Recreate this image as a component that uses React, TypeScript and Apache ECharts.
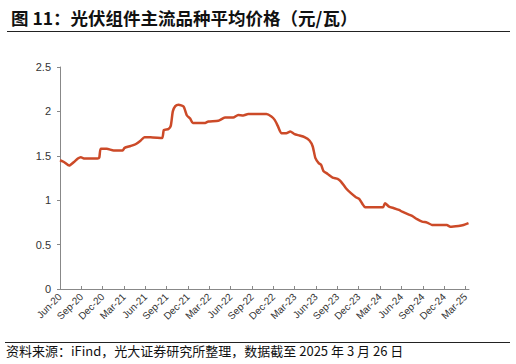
import React, { useEffect, useRef } from "react";
import * as echarts from "echarts";

// Month offset from Jun-2020 and module price (元/瓦)
const monthIdx = [
  0, 0.56, 1.3, 1.96, 2.51, 2.93, 3.35, 5.27, 5.52, 5.73, 6.57, 7.55, 8.8, 9.08, 9.92, 10.62, 11.32, 11.88,
  12.72, 14.35, 14.6, 15.23, 15.58, 15.86, 16.21, 16.67, 17.37, 17.84, 18.3, 18.68, 20.4, 20.86, 22.26,
  23.19, 24.35, 25.05, 25.75, 26.45, 29.02, 29.72, 30.18, 30.6, 31.12, 31.81, 32.37, 32.97, 33.67, 34.37,
  35.07, 35.53, 35.91, 36.37, 36.71, 37.03, 37.63, 38.33, 39.03, 39.5, 40.2, 40.9, 41.6, 42.06, 42.52,
  42.9, 45.41, 45.69, 46.25, 46.95, 47.65, 48.11, 48.81, 49.5, 50.2, 50.9, 51.6, 52.3, 54.39, 54.87,
  56.03, 56.73, 57.43,
];
const prices = [
  1.45, 1.43, 1.39, 1.43, 1.47, 1.485, 1.47, 1.47, 1.48, 1.58, 1.58, 1.56, 1.56, 1.59, 1.61, 1.63, 1.67, 1.71,
  1.71, 1.7, 1.79, 1.8, 1.84, 2.0, 2.06, 2.075, 2.055, 1.954, 1.92, 1.868, 1.87, 1.886, 1.894,
  1.93, 1.93, 1.96, 1.955, 1.97, 1.97, 1.943, 1.905, 1.84, 1.755, 1.755, 1.773, 1.744, 1.728, 1.71,
  1.672, 1.605, 1.473, 1.417, 1.398, 1.33, 1.296, 1.255, 1.24, 1.21, 1.135, 1.079, 1.034, 1.015, 0.958,
  0.92, 0.92, 0.966, 0.928, 0.91, 0.89, 0.87, 0.845, 0.823, 0.786, 0.759, 0.748, 0.722, 0.72, 0.702,
  0.71, 0.72, 0.741,
];
const xTickLabels = [
  "Jun-20", "Sep-20", "Dec-20", "Mar-21", "Jun-21", "Sep-21", "Dec-21", "Mar-22", "Jun-22", "Sep-22",
  "Dec-22", "Mar-23", "Jun-23", "Sep-23", "Dec-23", "Mar-24", "Jun-24", "Sep-24", "Dec-24", "Mar-25",
];
const titleText = "图 11：光伏组件主流品种平均价格（元/瓦）";
const sourceText = "资料来源：iFind，光大证券研究所整理，数据截至 2025 年 3 月 26 日";

export default function App() {
  const ref = useRef<HTMLDivElement>(null);
  useEffect(() => {
    if (!ref.current) return;
    const chart = echarts.init(ref.current, undefined, { renderer: "svg" });
    const tickVals = xTickLabels.map((_, i) => i * 3);
    const font = "'Liberation Sans', Arial, sans-serif";
    chart.setOption({
      animation: false,
      backgroundColor: "#fff",
      title: {
        text: titleText,
        left: 6,
        top: 4,
        textStyle: {
          fontSize: 17.5,
          fontWeight: "bold",
          color: "#111",
          fontFamily: "'Noto Sans CJK SC', sans-serif",
        },
      },
      graphic: [
        { type: "line", shape: { x1: 7, y1: 31.5, x2: 510, y2: 31.5 }, style: { stroke: "#222", lineWidth: 1 } },
        { type: "line", shape: { x1: 5, y1: 342.5, x2: 510, y2: 342.5 }, style: { stroke: "#222", lineWidth: 1 } },
        {
          type: "text",
          left: 6,
          top: 344,
          style: {
            text: sourceText,
            fontSize: 13,
            fill: "#111",
            fontFamily: "'Noto Sans CJK SC', sans-serif",
          },
        },
      ],
      grid: { left: 60, right: 47, top: 67, bottom: 75, containLabel: false },
      xAxis: {
        type: "value",
        min: 0,
        max: 57.5,
        splitLine: { show: false },
        axisLine: { show: true, lineStyle: { color: "#888", width: 1 } },
        axisTick: { show: true, inside: true, customValues: tickVals, length: 3, lineStyle: { color: "#888" } },
        axisLabel: {
          customValues: tickVals,
          rotate: 45,
          fontSize: 10,
          color: "#333",
          fontFamily: font,
          margin: 6,
          formatter: (v: number) => xTickLabels[Math.round(v / 3)] ?? "",
        },
      },
      yAxis: {
        type: "value",
        min: 0,
        max: 2.5,
        interval: 0.5,
        splitLine: { show: false },
        axisLine: { show: true, lineStyle: { color: "#888", width: 1 } },
        axisTick: { show: true, length: 3, lineStyle: { color: "#888" } },
        axisLabel: { fontSize: 11, color: "#333", fontFamily: font, margin: 9 },
      },
      series: [
        {
          type: "line",
          data: monthIdx.map((m, i) => [m, prices[i]]),
          showSymbol: false,
          smooth: 0.2,
          lineStyle: { color: "#CC4A28", width: 2.5 },
        },
      ],
    });
    return () => chart.dispose();
  }, []);
  return <div ref={ref} style={{ width: 516, height: 364, position: "absolute", left: 0, top: 0 }} />;
}
